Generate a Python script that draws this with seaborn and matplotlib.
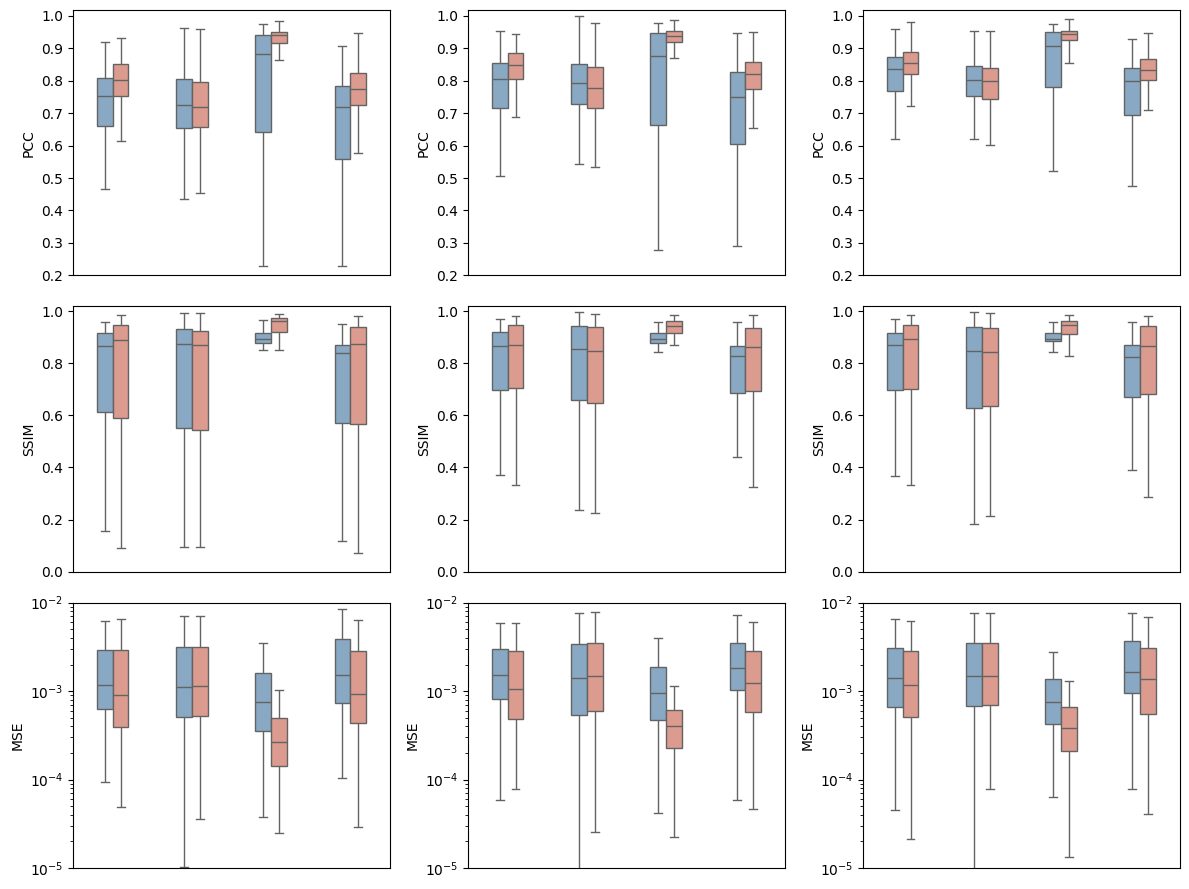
import numpy as np
import pandas as pd
import matplotlib
matplotlib.use('Agg')
import matplotlib.pyplot as plt
import seaborn as sns

groups = ['G1', 'G2', 'G3', 'G4']
hues = ['A', 'B']
metrics = ['PCC', 'SSIM', 'MSE']

# five-number summaries per box: [min, q1, median, q3, max]
pcc_1_a = [[0.466, 0.661, 0.752, 0.810, 0.919], [0.434, 0.654, 0.724, 0.804, 0.962],
           [0.230, 0.641, 0.882, 0.942, 0.974], [0.230, 0.560, 0.718, 0.783, 0.906]]
pcc_1_b = [[0.613, 0.752, 0.801, 0.851, 0.931], [0.455, 0.657, 0.718, 0.795, 0.959],
           [0.863, 0.916, 0.942, 0.950, 0.984], [0.576, 0.724, 0.774, 0.823, 0.946]]
pcc_2_a = [[0.506, 0.715, 0.804, 0.854, 0.953], [0.542, 0.727, 0.792, 0.851, 1.000],
           [0.277, 0.665, 0.875, 0.946, 0.977], [0.289, 0.604, 0.749, 0.826, 0.946]]
pcc_2_b = [[0.687, 0.804, 0.848, 0.885, 0.943], [0.533, 0.715, 0.777, 0.841, 0.977],
           [0.869, 0.919, 0.937, 0.953, 0.987], [0.653, 0.774, 0.820, 0.857, 0.950]]
pcc_3_a = [[0.619, 0.770, 0.835, 0.872, 0.959], [0.619, 0.752, 0.801, 0.845, 0.953],
           [0.523, 0.780, 0.906, 0.950, 0.974], [0.474, 0.693, 0.798, 0.838, 0.928]]
pcc_3_b = [[0.721, 0.820, 0.854, 0.888, 0.980], [0.601, 0.743, 0.798, 0.838, 0.953],
           [0.854, 0.925, 0.943, 0.953, 0.990], [0.709, 0.801, 0.832, 0.866, 0.946]]

ssim_1_a = [[0.158, 0.612, 0.865, 0.918, 0.960], [0.093, 0.551, 0.876, 0.930, 0.995],
            [0.853, 0.880, 0.895, 0.918, 0.968], [0.116, 0.570, 0.838, 0.872, 0.953]]
ssim_1_b = [[0.089, 0.589, 0.888, 0.949, 0.987], [0.093, 0.543, 0.872, 0.926, 0.995],
            [0.853, 0.922, 0.964, 0.976, 0.991], [0.073, 0.566, 0.876, 0.941, 0.983]]
ssim_2_a = [[0.372, 0.696, 0.865, 0.922, 0.972], [0.237, 0.658, 0.857, 0.945, 0.999],
            [0.842, 0.880, 0.892, 0.915, 0.960], [0.440, 0.685, 0.827, 0.865, 0.957]]
ssim_2_b = [[0.333, 0.704, 0.872, 0.949, 0.983], [0.226, 0.647, 0.846, 0.938, 0.991],
            [0.869, 0.915, 0.945, 0.964, 0.987], [0.325, 0.693, 0.861, 0.934, 0.987]]
ssim_3_a = [[0.367, 0.696, 0.869, 0.918, 0.972], [0.184, 0.628, 0.849, 0.938, 0.999],
            [0.842, 0.884, 0.895, 0.915, 0.957], [0.390, 0.670, 0.823, 0.869, 0.957]]
ssim_3_b = [[0.333, 0.700, 0.892, 0.949, 0.987], [0.214, 0.635, 0.842, 0.934, 0.995],
            [0.830, 0.911, 0.949, 0.964, 0.987], [0.287, 0.681, 0.865, 0.945, 0.983]]

mse_1_a = [[9.3e-5, 6.3e-4, 1.18e-3, 2.93e-3, 6.25e-3], [1.04e-5, 5.1e-4, 1.12e-3, 3.17e-3, 7.1e-3],
           [3.76e-5, 3.54e-4, 7.55e-4, 1.61e-3, 3.52e-3], [1.04e-4, 7.36e-4, 1.53e-3, 3.91e-3, 8.55e-3]]
mse_1_b = [[4.9e-5, 3.96e-4, 9.06e-4, 2.93e-3, 6.6e-3], [3.6e-5, 5.2e-4, 1.15e-3, 3.17e-3, 7.1e-3],
           [2.47e-5, 1.42e-4, 2.66e-4, 4.98e-4, 1.03e-3], [2.89e-5, 4.37e-4, 9.3e-4, 2.86e-3, 6.42e-3]]
mse_2_a = [[5.85e-5, 8.17e-4, 1.53e-3, 3.01e-3, 5.93e-3], [6.0e-6, 5.38e-4, 1.41e-3, 3.43e-3, 7.7e-3],
           [4.17e-5, 4.72e-4, 9.55e-4, 1.88e-3, 4.01e-3], [5.85e-5, 1.03e-3, 1.83e-3, 3.52e-3, 7.31e-3]]
mse_2_b = [[7.8e-5, 4.84e-4, 1.06e-3, 2.86e-3, 5.93e-3], [2.54e-5, 5.97e-4, 1.49e-3, 3.52e-3, 7.9e-3],
           [2.23e-5, 2.28e-4, 4.04e-4, 6.12e-4, 1.15e-3], [4.62e-5, 5.82e-4, 1.24e-3, 2.86e-3, 6.1e-3]]
mse_3_a = [[4.51e-5, 6.62e-4, 1.41e-3, 3.09e-3, 6.6e-3], [6.0e-6, 6.8e-4, 1.49e-3, 3.52e-3, 7.7e-3],
           [6.32e-5, 4.26e-4, 7.55e-4, 1.38e-3, 2.79e-3], [7.8e-5, 9.55e-4, 1.65e-3, 3.71e-3, 7.7e-3]]
mse_3_b = [[2.11e-5, 5.1e-4, 1.18e-3, 2.86e-3, 6.25e-3], [7.8e-5, 6.98e-4, 1.49e-3, 3.52e-3, 7.7e-3],
           [1.32e-5, 2.1e-4, 3.83e-4, 6.62e-4, 1.31e-3], [4.07e-5, 5.52e-4, 1.38e-3, 3.09e-3, 6.93e-3]]

panels = {
    'PCC': [(pcc_1_a, pcc_1_b), (pcc_2_a, pcc_2_b), (pcc_3_a, pcc_3_b)],
    'SSIM': [(ssim_1_a, ssim_1_b), (ssim_2_a, ssim_2_b), (ssim_3_a, ssim_3_b)],
    'MSE': [(mse_1_a, mse_1_b), (mse_2_a, mse_2_b), (mse_3_a, mse_3_b)],
}

palette = {'A': '#88a8c3', 'B': '#dc9b8f'}

fig, axes = plt.subplots(3, 3, figsize=(11.89, 8.89))
plt.subplots_adjust(left=0.0614, right=0.9924, top=0.9888, bottom=0.0236,
                    wspace=0.246, hspace=0.117)

for r, metric in enumerate(metrics):
    for c in range(3):
        ax = axes[r, c]
        rows = []
        for hue, series in zip(hues, panels[metric][c]):
            for g, vals in zip(groups, series):
                for v in vals:
                    rows.append({'group': g, 'model': hue, 'value': v})
        df = pd.DataFrame(rows)
        sns.boxplot(data=df, x='group', y='value', hue='model', ax=ax,
                    order=groups, hue_order=hues, palette=palette,
                    saturation=1, width=0.4, whis=(0, 100), showfliers=False,
                    log_scale=(metric == 'MSE'), legend=False)
        ax.set_xticks([])
        ax.set_xlabel('')
        ax.set_ylabel(metric)
        if metric == 'PCC':
            ax.set_ylim(0.2, 1.0185)
        elif metric == 'SSIM':
            ax.set_ylim(0.0, 1.019)
        else:
            ax.set_ylim(1e-5, 1e-2)

fig.savefig('out.png', dpi=100)
